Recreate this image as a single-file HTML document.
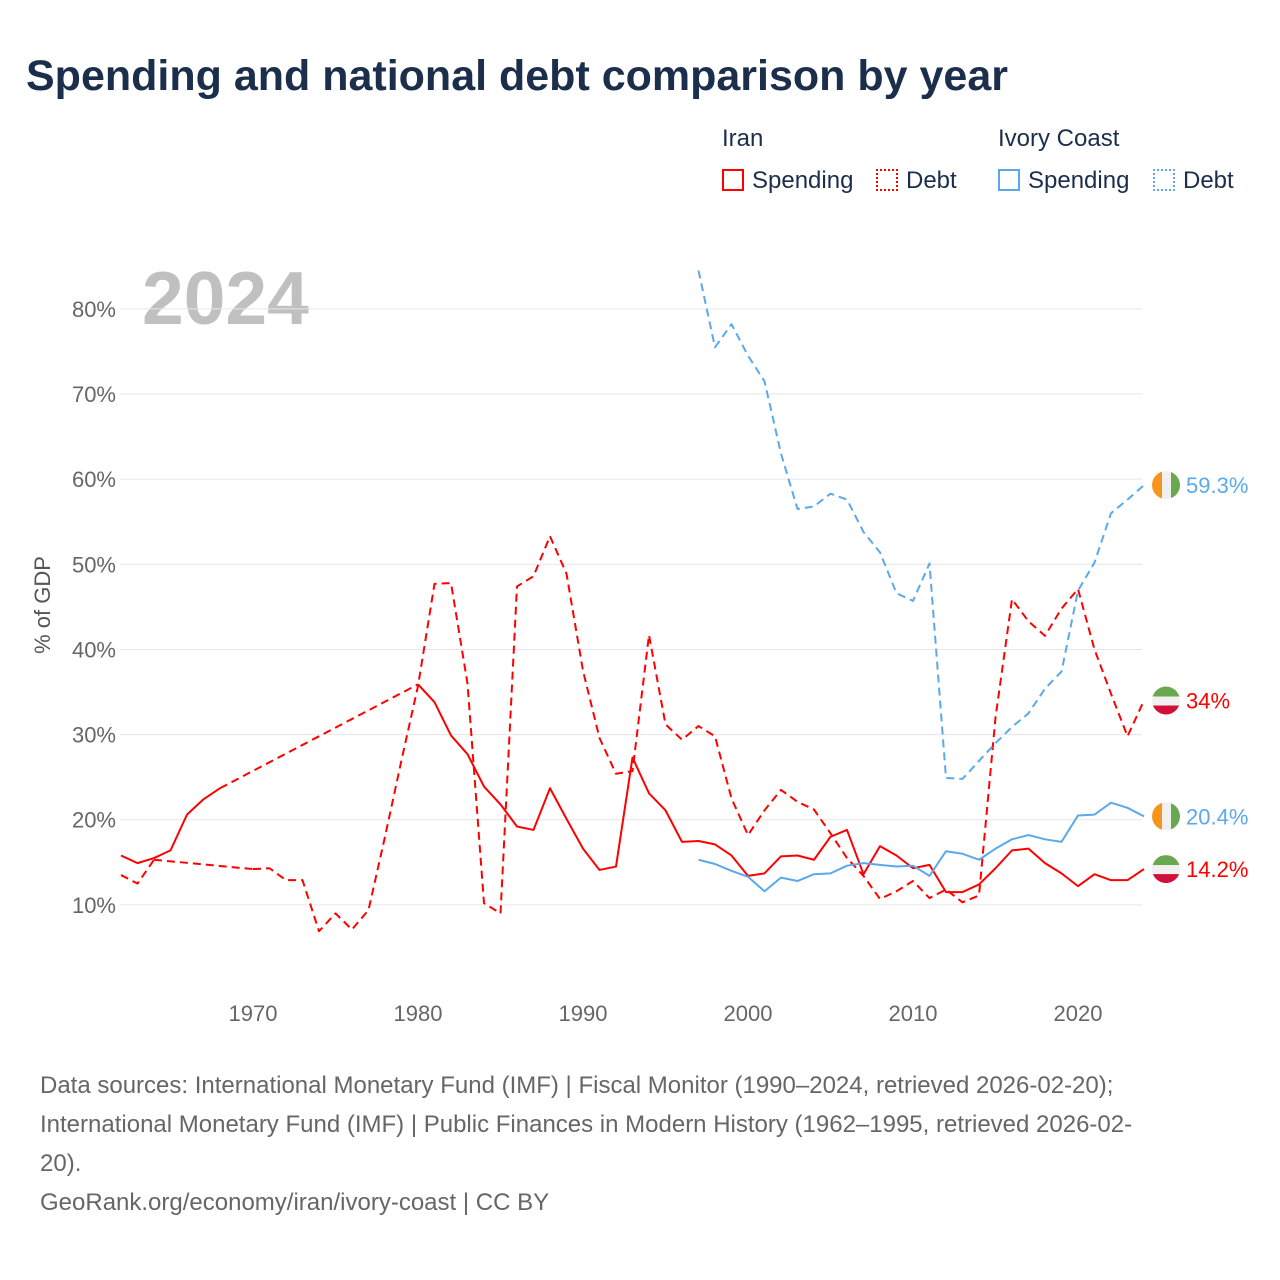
<!DOCTYPE html>
<html><head><meta charset="utf-8"><style>
body{margin:0;background:#fff;font-family:"Liberation Sans",sans-serif;}
#wrap{position:relative;width:1280px;height:1280px;overflow:hidden;}
.t{position:absolute;white-space:nowrap;}
</style></head><body>
<div id="wrap">
<div class="t" style="left:26px;top:52px;font-size:43px;font-weight:bold;color:#1b2e4b;">Spending and national debt comparison by year</div>
<div class="t" style="left:722px;top:125px;font-size:24px;color:#1b2e4b;">Iran</div>
<div class="t" style="left:998px;top:125px;font-size:24px;color:#1b2e4b;">Ivory Coast</div>
<div class="t" style="left:722px;top:167px;font-size:24px;color:#1b2e4b;"><span style="display:inline-block;width:22px;height:22px;border:2px solid #f00;box-sizing:border-box;vertical-align:-3px;margin-right:8px;"></span>Spending</div>
<div class="t" style="left:876px;top:167px;font-size:24px;color:#1b2e4b;"><span style="display:inline-block;width:22px;height:22px;border:2px dotted #f00;box-sizing:border-box;vertical-align:-3px;margin-right:8px;"></span>Debt</div>
<div class="t" style="left:998px;top:167px;font-size:24px;color:#1b2e4b;"><span style="display:inline-block;width:22px;height:22px;border:2px solid #5aa9ec;box-sizing:border-box;vertical-align:-3px;margin-right:8px;"></span>Spending</div>
<div class="t" style="left:1153px;top:167px;font-size:24px;color:#1b2e4b;"><span style="display:inline-block;width:22px;height:22px;border:2px dotted #5aa9ec;box-sizing:border-box;vertical-align:-3px;margin-right:8px;"></span>Debt</div>
<svg id="chart" width="1280" height="1280" style="position:absolute;left:0;top:0;">
<text x="142" y="324" font-size="75" font-weight="bold" fill="#c0c0c0" font-family="Liberation Sans, sans-serif">2024</text>
<text transform="translate(50,605) rotate(-90)" text-anchor="middle" font-size="22" fill="#555" font-family="Liberation Sans, sans-serif">% of GDP</text>
<g id="grid"></g><g id="lines"></g><g id="ends"></g>
</svg>
<div class="t" style="left:40px;top:1066px;font-size:24px;line-height:39px;color:#666;">Data sources: International Monetary Fund (IMF) | Fiscal Monitor (1990–2024, retrieved 2026-02-20);<br>International Monetary Fund (IMF) | Public Finances in Modern History (1962–1995, retrieved 2026-02-<br>20).<br>GeoRank.org/economy/iran/ivory-coast | CC BY</div>
</div>
<script>
const yTicks=[10,20,30,40,50,60,70,80];
const xTicks=[1970,1980,1990,2000,2010,2020];
const iranYears0=1962;
const iranSpending=[15.8,14.9,15.5,16.4,20.6,22.4,23.7,null,null,null,null,null,null,null,null,null,null,null,35.9,33.8,29.9,27.7,23.9,21.8,19.2,18.8,23.7,20.1,16.6,14.1,14.5,27.3,23.1,21.1,17.4,17.5,17.1,15.8,13.4,13.7,15.7,15.8,15.3,18.0,18.8,13.6,16.9,15.8,14.3,14.7,11.5,11.5,12.4,14.3,16.4,16.6,14.9,13.7,12.2,13.6,12.9,12.9,14.2];
const iranDebt=[13.5,12.5,15.3,null,null,null,null,null,14.2,14.3,12.9,12.9,6.9,9.0,7.1,9.4,18.0,27.0,35.7,47.7,47.8,36.0,10.2,9.0,47.4,48.6,53.3,48.9,37.5,29.6,25.4,25.7,41.7,31.2,29.4,31.0,29.8,22.5,18.2,21.1,23.5,22.1,21.2,18.4,15.5,13.4,10.7,11.6,12.8,10.8,11.8,10.3,11.1,32.0,45.9,43.3,41.6,44.8,47.1,40.0,34.8,29.8,34.0];
const civYears0=1997;
const civSpending=[15.3,14.8,14.0,13.3,11.6,13.2,12.8,13.6,13.7,14.6,14.9,14.7,14.5,14.6,13.4,16.3,16.0,15.3,16.6,17.7,18.2,17.7,17.4,20.5,20.6,22.0,21.4,20.4];
const civDebt=[84.5,75.5,78.2,74.5,71.5,63.0,56.5,56.8,58.3,57.6,53.8,51.4,46.6,45.7,50.1,24.9,24.8,26.9,29.0,30.9,32.5,35.4,37.4,46.9,50.2,56.0,57.6,59.3];
const endLabels=["59.3%","34%","20.4%","14.2%"];

const NS="http://www.w3.org/2000/svg";
const X=y=>253+(y-1970)*16.5;
const Y=v=>990-v*8.514;
function mk(tag,attrs,parent){const e=document.createElementNS(NS,tag);for(const k in attrs)e.setAttribute(k,attrs[k]);parent.appendChild(e);return e;}
const grid=document.getElementById('grid'),lines=document.getElementById('lines'),ends=document.getElementById('ends');
yTicks.forEach(v=>{
 const l=mk('line',{x1:120,x2:1142,y1:Y(v),y2:Y(v),stroke:'#e6e6e6','stroke-width':1},grid);
 
 
 const t=mk('text',{x:116,y:Y(v)+8,'text-anchor':'end','font-size':22,fill:'#666','font-family':'Liberation Sans, sans-serif'},grid);
 t.textContent=v+'%';
 
 
});
xTicks.forEach(v=>{
 const t=mk('text',{x:X(v),y:1021,'text-anchor':'middle','font-size':22,fill:'#666','font-family':'Liberation Sans, sans-serif'},grid);
 t.textContent=v;
 
 
});
function draw(arr,y0,color,dashed,name){
 let segs=[],cur=[],last=null;
 arr.forEach((v,i)=>{
  if(v==null){if(cur.length)segs.push(cur);cur=[];return;}
  const p=[X(y0+i),Y(v)];
  if(!cur.length&&last){const b=mk('path',{d:'M'+last.join(',')+'L'+p.join(','),fill:'none',stroke:color,'stroke-width':2,'stroke-dasharray':'8 5'},lines);
   
   }
  cur.push(p);last=p;
 });
 if(cur.length)segs.push(cur);
 segs.forEach(s=>{
  const a={d:'M'+s.map(p=>p.join(',')).join('L'),fill:'none',stroke:color,'stroke-width':2,'stroke-linejoin':'round'};
  if(dashed)a['stroke-dasharray']='8 5';
  const e=mk('path',a,lines);
  
  
 });
}
draw(iranSpending,iranYears0,'#ff0000',false,'iran-spending-line');
draw(iranDebt,iranYears0,'#ff0000',true,'iran-debt-line');
draw(civSpending,civYears0,'#5aa9ec',false,'ivory-spending-line');
draw(civDebt,civYears0,'#5aa9ec',true,'ivory-debt-line');
const endVals=[civDebt[civDebt.length-1],iranDebt[iranDebt.length-1],civSpending[civSpending.length-1],iranSpending[iranSpending.length-1]];
const endCols=['#5aa9ec','#ff0000','#5aa9ec','#ff0000'];
const endIsCiv=[true,false,true,false];
endVals.forEach((v,i)=>{
 const cy=Y(v),cx=1166;
 const g=mk('g',{},ends);
 
 
 const cid='c'+i;
 const cp=mk('clipPath',{id:cid},g);mk('circle',{cx:cx,cy:cy,r:14},cp);
 const gg=mk('g',{'clip-path':'url(#'+cid+')'},g);
 if(endIsCiv[i]){
  mk('rect',{x:cx-14,y:cy-14,width:10,height:28,fill:'#f7941d'},gg);
  mk('rect',{x:cx-4,y:cy-14,width:9,height:28,fill:'#f0f0f0'},gg);
  mk('rect',{x:cx+5,y:cy-14,width:10,height:28,fill:'#6aa84f'},gg);
 }else{
  mk('rect',{x:cx-14,y:cy-14,width:28,height:10,fill:'#6aa84f'},gg);
  mk('rect',{x:cx-14,y:cy-4,width:28,height:9,fill:'#f0f0f0'},gg);
  mk('rect',{x:cx-14,y:cy+5,width:28,height:10,fill:'#d0103a'},gg);
 }
 const t=mk('text',{x:1186,y:cy+8,'font-size':22,fill:endCols[i],'font-family':'Liberation Sans, sans-serif'},ends);
 t.textContent=endLabels[i];
 
 
});
</script>
</body></html>
